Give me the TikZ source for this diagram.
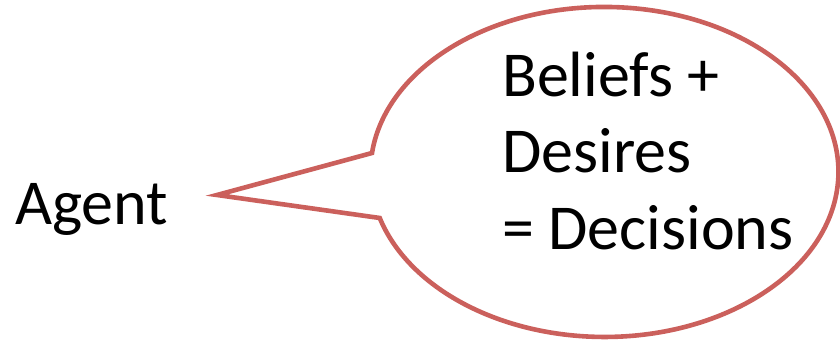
\documentclass[tikz,border=0pt]{standalone}
\usepackage{fontspec}
\setmainfont{Carlito}
\definecolor{calloutred}{RGB}{203,96,92}
\begin{document}
\begin{tikzpicture}[x=1pt,y=1pt,
  bigtext/.style={anchor=base west,inner sep=0pt,font=\fontsize{64}{76}\selectfont},
  bubble/.style={draw=calloutred,line width=4.6pt,line join=miter,fill=white}]
\useasboundingbox (0,0) rectangle (840,342);
\coordinate (tip) at (217,147);
\coordinate (upper) at (372,189);
\draw[bubble] (tip) -- (upper) arc[start angle=173.4,end angle=-163.8,x radius=234,y radius=165] -- cycle;
\node[bigtext] (agent) at (15,117) {Agent};
\node[bigtext] (l1) at (502,245) {Beliefs +};
\node[bigtext] (l2) at (502,169) {Desires};
\node[bigtext] (l3) at (502,92) {= Decisions};
\end{tikzpicture}
\end{document}
